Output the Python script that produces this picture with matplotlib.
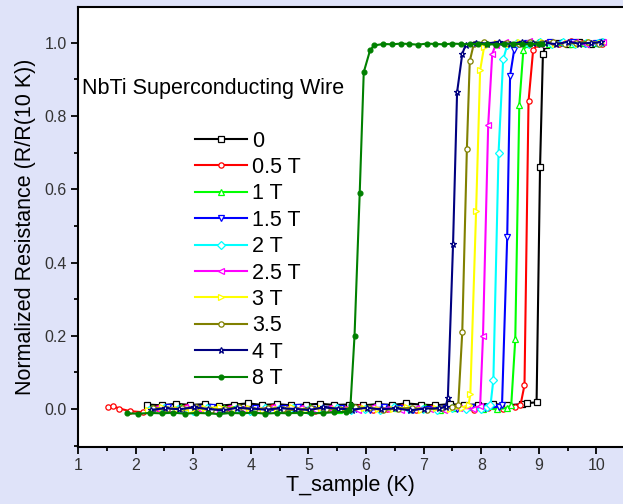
import matplotlib
matplotlib.use("Agg")
import matplotlib.pyplot as plt
from matplotlib.ticker import MultipleLocator

plt.rcParams['font.family'] = ['Liberation Sans', 'DejaVu Sans']

labels = ['0', '0.5 T', '1 T', '1.5 T', '2 T', '2.5 T', '3 T', '3.5', '4 T', '8 T']
colors = ['#000000', '#ff0000', '#00ff00', '#0000ff', '#00ffff', '#ff00ff', '#ffff00', '#808000', '#000080', '#008000']
markers = ['s', 'o', '^', 'v', 'D', '<', '>', 'o', '*', 'o']

t_0T = [2.20, 2.45, 2.70, 2.95, 3.20, 3.45, 3.70, 3.95, 4.20, 4.45,
        4.70, 4.95, 5.20, 5.45, 5.70, 5.95, 6.20, 6.45, 6.70, 6.95,
        7.20, 7.45, 7.70, 7.95, 8.20, 8.45, 8.70, 8.80, 8.96,
        9.02, 9.07, 9.12, 9.30, 9.50, 9.70, 9.90, 10.08]
r_0T = [0.012, 0.010, 0.014, 0.011, 0.013, 0.009, 0.012, 0.015, 0.011, 0.013,
        0.010, 0.012, 0.014, 0.011, 0.012, 0.010, 0.013, 0.011, 0.015, 0.012,
        0.010, 0.013, 0.011, 0.012, 0.014, 0.010, 0.013, 0.016, 0.018,
        0.66, 0.97, 0.995, 1.001, 0.997, 1.003, 0.998, 1.000]

t_05T = [1.52, 1.60, 1.72, 1.90, 2.12, 2.37, 2.62, 2.87, 3.12, 3.37,
         3.62, 3.87, 4.12, 4.37, 4.62, 4.87, 5.12, 5.37, 5.62, 5.87,
         6.12, 6.37, 6.62, 6.87, 7.12, 7.37, 7.62, 7.87, 8.12, 8.37,
         8.58, 8.68,
         8.75, 8.82, 8.90, 8.97, 9.15, 9.35, 9.55, 9.75, 9.95, 10.10]
r_05T = [0.004, 0.008, 0.001, -0.006, -0.009, 0.002, -0.003, 0.005, 0.001, -0.004,
         0.003, 0.000, -0.002, 0.004, -0.001, 0.002, -0.005, 0.003, 0.000, 0.004,
         -0.002, 0.001, 0.005, -0.003, 0.002, 0.000, 0.004, -0.002, 0.003, 0.001,
         0.004, 0.010,
         0.065, 0.84, 0.98, 0.996, 1.002, 0.997, 1.004, 0.999, 1.001, 0.996]

t_1T = [2.28, 2.53, 2.78, 3.03, 3.28, 3.53, 3.78, 4.03, 4.28, 4.53,
        4.78, 5.03, 5.28, 5.53, 5.78, 6.03, 6.28, 6.53, 6.78, 7.03,
        7.28, 7.53, 7.78, 8.03, 8.28, 8.45, 8.52,
        8.59, 8.66, 8.73, 8.80,
        8.98, 9.18, 9.38, 9.58, 9.78, 9.98, 10.10]
r_1T = [0.003, -0.002, 0.005, 0.001, -0.004, 0.002, 0.006, -0.001, 0.003, 0.000,
        -0.003, 0.004, 0.001, -0.002, 0.005, 0.002, -0.001, 0.003, 0.000, 0.004,
        -0.002, 0.002, 0.005, 0.001, -0.001, 0.003, 0.010,
        0.19, 0.83, 0.98, 0.997,
        1.003, 0.998, 1.002, 0.996, 1.001, 0.999, 1.004]

t_15T = [2.32, 2.57, 2.82, 3.07, 3.32, 3.57, 3.82, 4.07, 4.32, 4.57,
         4.82, 5.07, 5.32, 5.57, 5.82, 6.07, 6.32, 6.57, 6.82, 7.07,
         7.32, 7.57, 7.82, 8.07, 8.30, 8.36,
         8.45, 8.50, 8.57, 8.63,
         8.80, 9.00, 9.20, 9.40, 9.60, 9.80, 10.00, 10.10]
r_15T = [0.001, 0.005, -0.003, 0.002, 0.004, -0.002, 0.000, 0.003, -0.004, 0.002,
         0.005, 0.001, -0.001, 0.003, 0.000, -0.003, 0.004, 0.002, -0.002, 0.001,
         0.003, -0.001, 0.004, 0.002, 0.006, 0.010,
         0.47, 0.91, 0.98, 0.996,
         1.001, 0.997, 1.003, 0.999, 1.002, 0.996, 1.000, 1.003]

t_2T = [2.24, 2.49, 2.74, 2.99, 3.24, 3.49, 3.74, 3.99, 4.24, 4.49,
        4.74, 4.99, 5.24, 5.49, 5.74, 5.99, 6.24, 6.49, 6.74, 6.99,
        7.24, 7.49, 7.74, 7.99, 8.10, 8.16,
        8.21, 8.30, 8.38, 8.45,
        8.62, 8.82, 9.02, 9.22, 9.42, 9.62, 9.82, 10.02, 10.10]
r_2T = [-0.004, 0.002, 0.000, -0.006, 0.003, -0.002, 0.001, -0.005, 0.002, -0.001,
        0.003, -0.003, 0.000, 0.002, -0.004, 0.001, -0.002, 0.004, -0.001, 0.000,
        -0.003, 0.002, -0.001, 0.001, 0.004, 0.010,
        0.08, 0.70, 0.955, 0.993,
        1.000, 0.996, 1.003, 0.998, 1.002, 0.997, 1.001, 0.999, 1.003]

t_25T = [2.36, 2.61, 2.86, 3.11, 3.36, 3.61, 3.86, 4.11, 4.36, 4.61,
         4.86, 5.11, 5.36, 5.61, 5.86, 6.11, 6.36, 6.61, 6.86, 7.11,
         7.36, 7.61, 7.86, 7.98,
         8.03, 8.12, 8.19, 8.25,
         8.42, 8.62, 8.82, 9.02, 9.22, 9.42, 9.62, 9.82, 10.02, 10.12]
r_25T = [0.002, -0.003, 0.004, 0.000, -0.005, 0.003, 0.001, -0.002, 0.005, -0.001,
         0.002, -0.004, 0.003, 0.000, -0.002, 0.004, 0.001, -0.003, 0.002, 0.000,
         -0.002, 0.003, 0.001, 0.008,
         0.20, 0.775, 0.97, 0.995,
         1.002, 0.998, 1.004, 0.997, 1.001, 0.999, 1.003, 0.996, 1.000, 1.002]

t_3T = [2.21, 2.46, 2.71, 2.96, 3.21, 3.46, 3.71, 3.96, 4.21, 4.46,
        4.71, 4.96, 5.21, 5.46, 5.71, 5.96, 6.21, 6.46, 6.71, 6.96,
        7.21, 7.46, 7.66, 7.78, 7.81,
        7.91, 7.98, 8.05, 8.10,
        8.28, 8.48, 8.68, 8.88, 9.08, 9.28, 9.48, 9.68, 9.88, 10.08]
r_3T = [-0.002, 0.004, 0.001, -0.004, 0.002, 0.005, -0.001, 0.003, -0.003, 0.001,
        0.004, -0.002, 0.002, 0.000, -0.004, 0.003, 0.001, -0.001, 0.004, -0.003,
        0.002, 0.000, 0.003, 0.012, 0.04,
        0.54, 0.925, 0.99, 0.998,
        1.001, 0.997, 1.003, 0.999, 1.002, 0.996, 1.001, 0.998, 1.003, 1.000]

t_35T = [2.30, 2.55, 2.80, 3.05, 3.30, 3.55, 3.80, 4.05, 4.30, 4.55,
         4.80, 5.05, 5.30, 5.55, 5.80, 6.05, 6.30, 6.55, 6.80, 7.05,
         7.30, 7.50, 7.60,
         7.67, 7.75, 7.80, 7.87,
         8.05, 8.25, 8.45, 8.65, 8.85, 9.05, 9.25, 9.45, 9.65, 9.85, 10.05]
r_35T = [0.003, -0.001, 0.002, 0.005, -0.003, 0.001, 0.004, -0.002, 0.002, 0.000,
         -0.004, 0.003, 0.001, -0.001, 0.004, 0.002, -0.003, 0.001, 0.003, -0.002,
         0.002, 0.004, 0.010,
         0.21, 0.71, 0.95, 0.997,
         1.002, 0.998, 1.001, 0.996, 1.003, 0.999, 1.002, 0.997, 1.000, 1.003, 0.998]

t_4T = [2.26, 2.51, 2.76, 3.01, 3.26, 3.51, 3.76, 4.01, 4.26, 4.51,
        4.76, 5.01, 5.26, 5.51, 5.76, 6.01, 6.26, 6.51, 6.76, 7.01,
        7.26, 7.38, 7.42,
        7.51, 7.58, 7.67, 7.73,
        7.90, 8.10, 8.30, 8.50, 8.70, 8.90, 9.10, 9.30, 9.50, 9.70, 9.90, 10.08]
r_4T = [-0.003, 0.002, -0.001, 0.004, 0.000, -0.004, 0.003, 0.001, -0.002, 0.002,
        0.000, -0.003, 0.004, 0.001, -0.002, 0.003, -0.001, 0.002, -0.004, 0.001,
        0.002, 0.005, 0.03,
        0.45, 0.865, 0.97, 0.995,
        1.001, 0.998, 1.003, 0.997, 1.002, 0.999, 1.001, 0.996, 1.003, 0.998, 1.000, 1.002]

t_8T = [1.85, 2.05, 2.25, 2.45, 2.65, 2.85, 3.05, 3.25, 3.45, 3.65,
        3.85, 4.05, 4.25, 4.45, 4.65, 4.85, 5.05, 5.25, 5.45, 5.65,
        5.70,
        5.73, 5.80, 5.89, 5.96, 6.07, 6.14,
        6.30, 6.45, 6.60, 6.75, 6.90, 7.05, 7.20, 7.35, 7.50, 7.65,
        7.80, 7.95, 8.10, 8.25, 8.40, 8.55, 8.70, 8.85, 9.00, 9.05]
r_8T = [-0.012, -0.013, -0.011, -0.012, -0.010, -0.013, -0.011, -0.012, -0.014, -0.011,
        -0.012, -0.010, -0.013, -0.011, -0.012, -0.010, -0.012, -0.011, -0.009, -0.008,
        -0.004,
        0.01, 0.20, 0.59, 0.92, 0.98, 0.993,
        0.997, 0.996, 0.998, 0.997, 0.995, 0.998, 0.997, 0.996, 0.998, 0.997,
        0.996, 0.998, 0.997, 0.995, 0.997, 0.998, 0.996, 0.997, 0.998, 0.996]

temps = [t_0T, t_05T, t_1T, t_15T, t_2T, t_25T, t_3T, t_35T, t_4T, t_8T]
resist = [r_0T, r_05T, r_1T, r_15T, r_2T, r_25T, r_3T, r_35T, r_4T, r_8T]

title_text = 'NbTi Superconducting Wire'
x_label = 'T_sample (K)'
y_label = 'Normalized Resistance (R/R(10 K))'

fig = plt.figure(figsize=(6.23, 5.04), dpi=100, facecolor='#dfe3f9')
ax = fig.add_axes([78/623, 57/504, 545/623, 440/504])
ax.set_facecolor('white')

for t, r, c, m, lab in zip(temps, resist, colors, markers, labels):
    filled = (lab == '8 T')
    if m == '*':
        ms = 5.0
    elif filled:
        ms = 3.5
    else:
        ms = 3.8
    ax.plot(t, r, color=c, lw=1.5, marker=m, ms=ms,
            mfc=c if filled else 'white', mec=c, mew=0.9, label=lab)

ax.set_xlim(1, 10.46)
ax.set_ylim(-0.104, 1.098)
ax.xaxis.set_major_locator(MultipleLocator(1))
ax.xaxis.set_minor_locator(MultipleLocator(0.5))
ax.yaxis.set_minor_locator(MultipleLocator(0.1))
ax.set_yticks([0.0, 0.2, 0.4, 0.6, 0.8, 1.0])
ax.set_yticklabels(['0.0', '0.2', '0.4', '0.6', '0.8', '1.0'])

ax.spines['right'].set_visible(False)
for s in ['left', 'bottom', 'top']:
    ax.spines[s].set_linewidth(1.5)
ax.tick_params(which='major', direction='out', length=5, width=1.3,
               labelsize=11.5, pad=3, colors='black', labelcolor='#333333')
ax.tick_params(which='minor', direction='out', length=3, width=1.3)
ax.tick_params(axis='x', which='both', top=False)

ax.set_xlabel(x_label, fontsize=15.5, labelpad=1)
ax.set_ylabel(y_label, fontsize=15.5, labelpad=6)

ax.text(1.07, 0.875, title_text, fontsize=15.5, va='center', ha='left')

leg = ax.legend(loc='upper left', bbox_to_anchor=(0.215, 0.719), frameon=False,
                fontsize=15.5, handlelength=2.4, handletextpad=0.25,
                labelspacing=0.25, borderpad=0, borderaxespad=0)

fig.savefig('out.png', dpi=100, facecolor=fig.get_facecolor())
